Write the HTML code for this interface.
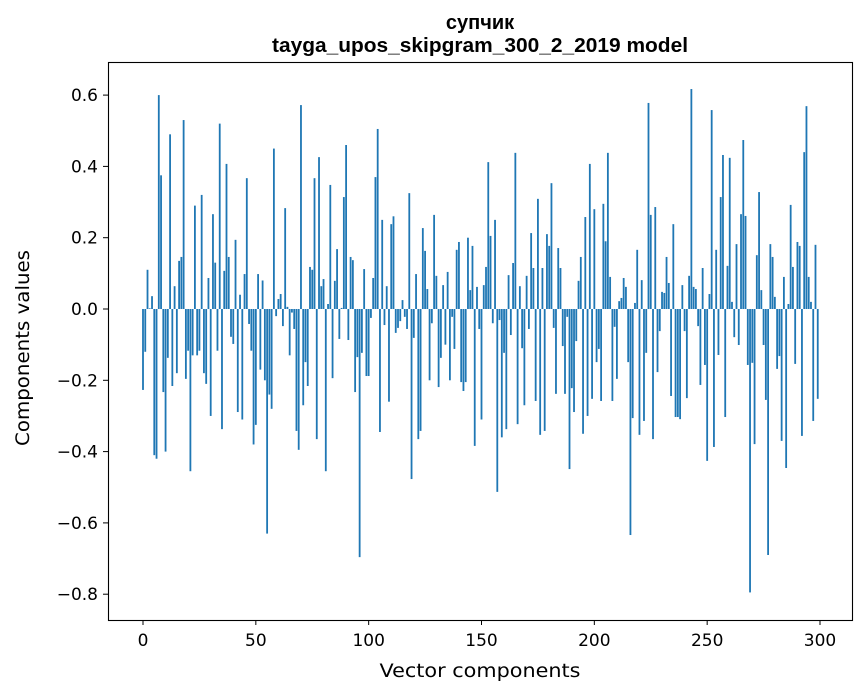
<!DOCTYPE html>
<html><head><meta charset="utf-8"><style>
html,body{margin:0;padding:0;background:#fff;}
svg{display:block;font-family:"DejaVu Sans","Liberation Sans",sans-serif;}
</style></head><body>
<svg id="chart" width="867" height="696">
<text x="480" y="29" text-anchor="middle" font-size="20" font-weight="bold" font-family="Liberation Sans, sans-serif">супчик</text>
<text x="480" y="52" text-anchor="middle" font-size="20" font-weight="bold" font-family="Liberation Sans, sans-serif" textLength="416" lengthAdjust="spacingAndGlyphs">tayga_upos_skipgram_300_2_2019 model</text>
<g id="bars"></g>
<g id="xticks"></g>
<g id="yticks"></g>
<rect x="108.5" y="62.5" width="744" height="558" fill="none" stroke="#000" stroke-width="1.1"/>
<text x="480" y="677" text-anchor="middle" font-size="19" textLength="201" lengthAdjust="spacingAndGlyphs">Vector components</text>
<text transform="translate(29,348) rotate(-90)" text-anchor="middle" font-size="19" textLength="196" lengthAdjust="spacingAndGlyphs">Components values</text>
</svg>
<script>
const values = [-0.227,-0.12,0.11,0.002,0.036,-0.41,-0.42,0.60,0.375,-0.233,-0.40,-0.137,0.49,-0.216,0.064,-0.18,0.135,0.146,0.53,-0.196,
-0.117,-0.455,-0.13,0.29,-0.13,-0.117,0.32,-0.18,-0.21,0.087,-0.30,0.266,0.13,-0.117,0.52,-0.337,0.107,0.407,0.146,-0.078,
-0.098,0.194,-0.289,0.04,-0.31,0.098,0.367,-0.042,-0.117,-0.38,-0.325,0.098,-0.17,0.08,-0.2,-0.63,-0.24,-0.28,0.45,-0.02,
0.028,0.042,-0.048,0.283,0.006,-0.13,-0.01,-0.056,-0.342,-0.395,0.572,-0.27,-0.149,-0.216,0.118,0.11,0.367,-0.365,0.426,0.064,
0.084,-0.455,0.014,0.348,-0.194,0.079,0.168,-0.084,0.003,0.314,0.46,-0.087,0.146,0.137,-0.233,-0.135,-0.696,-0.123,0.112,-0.188,
-0.188,-0.025,0.087,0.37,0.505,-0.345,0.25,-0.045,0.064,-0.26,0.238,0.26,-0.067,-0.053,-0.034,0.025,-0.022,-0.056,0.325,-0.477,
-0.081,0.098,-0.365,-0.342,0.227,0.163,0.056,-0.2,-0.04,0.264,0.093,-0.219,-0.137,0.067,-0.1,0.104,-0.2,-0.022,-0.112,0.166,
0.188,-0.205,-0.23,-0.205,0.2,0.053,0.177,-0.384,0.062,-0.056,-0.31,0.067,0.118,0.412,0.205,-0.04,0.25,-0.513,-0.031,-0.36,
-0.123,-0.337,0.095,-0.073,0.129,0.438,-0.323,0.064,-0.11,-0.27,0.093,-0.056,0.213,0.115,-0.258,0.309,-0.353,0.115,-0.342,0.21,
0.177,0.353,-0.053,-0.238,0.171,0.115,-0.104,-0.238,-0.022,-0.449,-0.222,-0.289,-0.09,0.079,0.146,-0.35,0.258,-0.30,0.407,-0.252,
0.28,-0.149,-0.112,-0.258,0.295,0.19,0.438,0.09,-0.258,-0.05,-0.196,0.022,0.031,0.087,0.062,-0.149,-0.634,-0.306,0.017,0.166,
-0.353,0.081,-0.314,-0.123,0.578,0.264,-0.365,0.286,-0.177,-0.062,0.048,0.045,0.146,0.073,-0.244,0.238,-0.303,-0.303,-0.309,0.067,
-0.062,-0.25,0.093,0.617,0.062,0.056,-0.048,-0.213,0.115,-0.157,-0.426,0.042,0.558,-0.387,0.166,-0.129,0.314,0.432,-0.303,0.121,
0.424,0.02,-0.079,0.182,-0.101,0.266,0.474,0.261,-0.157,-0.795,-0.151,-0.379,0.151,0.328,0.053,-0.101,-0.255,-0.69,0.182,0.146,
0.034,-0.168,-0.132,-0.37,0.09,-0.446,0.014,0.292,0.118,-0.154,0.188,0.177,-0.356,0.44,0.569,0.09,0.02,-0.314,0.18,-0.252];
const xTicks = [0,50,100,150,200,250,300];
const yTicks = [0.6,0.4,0.2,0.0,-0.2,-0.4,-0.6,-0.8];
const yTickLabels = ["0.6","0.4","0.2","0.0","\u22120.2","\u22120.4","\u22120.6","\u22120.8"];

const NS = "http://www.w3.org/2000/svg";
function xs(i){ return 143 + i * (677/300); }
function ys(v){ return 309 - v * 356.5; }
const bw = 0.8 * (677/300);
const bars = document.getElementById('bars');
values.forEach((v, i) => {
  const r = document.createElementNS(NS, 'rect');
  const y0 = ys(0), y1 = ys(v);
  r.setAttribute('x', xs(i) - bw/2);
  r.setAttribute('y', Math.min(y0, y1));
  r.setAttribute('width', bw);
  r.setAttribute('height', Math.max(Math.abs(y1 - y0), 0.3));
  r.setAttribute('fill', '#1f77b4');
  
  
  bars.appendChild(r);
});
const xg = document.getElementById('xticks');
xTicks.forEach(t => {
  const l = document.createElementNS(NS, 'line');
  l.setAttribute('x1', xs(t)); l.setAttribute('x2', xs(t));
  l.setAttribute('y1', 620); l.setAttribute('y2', 625);
  l.setAttribute('stroke', '#000');
  
  
  xg.appendChild(l);
  const tx = document.createElementNS(NS, 'text');
  tx.setAttribute('x', xs(t)); tx.setAttribute('y', 646);
  tx.setAttribute('text-anchor', 'middle'); tx.setAttribute('font-size', '17');
  tx.textContent = t;
  
  
  xg.appendChild(tx);
});
const yg = document.getElementById('yticks');
yTicks.forEach((t, k) => {
  const l = document.createElementNS(NS, 'line');
  l.setAttribute('x1', 103); l.setAttribute('x2', 108);
  l.setAttribute('y1', ys(t)); l.setAttribute('y2', ys(t));
  l.setAttribute('stroke', '#000');
  
  
  yg.appendChild(l);
  const tx = document.createElementNS(NS, 'text');
  tx.setAttribute('x', 98); tx.setAttribute('y', ys(t) + 6);
  tx.setAttribute('text-anchor', 'end'); tx.setAttribute('font-size', '17');
  tx.textContent = yTickLabels[k];
  
  
  yg.appendChild(tx);
});
</script>
</body></html>
